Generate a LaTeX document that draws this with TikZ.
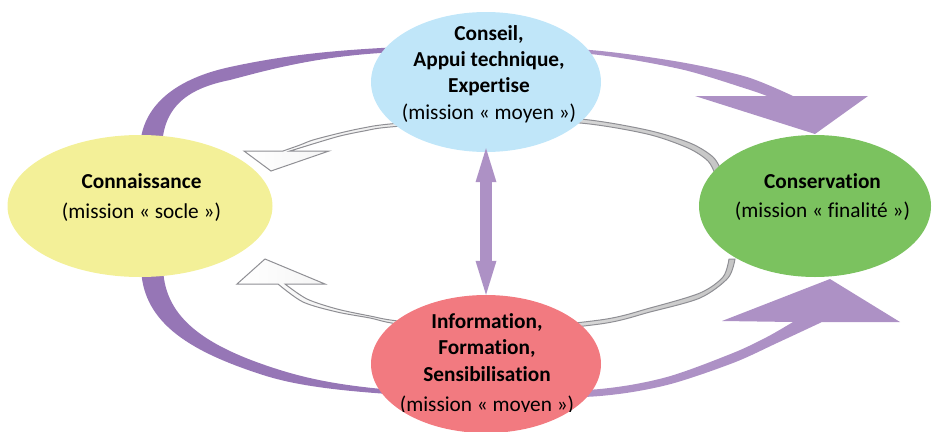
\documentclass[tikz,border=0pt]{standalone}
\usepackage{fontspec}
\setmainfont{Carlito}[Ligatures={CommonOff,ContextualOff}]
\usetikzlibrary{shapes.geometric,arrows.meta}
\definecolor{cblue}{HTML}{C0E6F9}
\definecolor{cyellow}{HTML}{F3F098}
\definecolor{cgreen}{HTML}{7BC25F}
\definecolor{cred}{HTML}{F27A80}
\definecolor{pdark}{HTML}{9676B6}
\definecolor{plight}{HTML}{AD91C5}
\definecolor{gline}{HTML}{8F8F94}
\begin{document}
\begin{tikzpicture}[x=1pt,y=-1pt,
  oval/.style={ellipse,inner sep=0pt,draw=none},
  txt/.style={align=center,inner sep=0pt,font=\fontsize{21.3}{26.4}\selectfont},
  gband/.style={draw=gline,line width=1pt,line join=miter,left color=white,right color=gray!45},
]
\useasboundingbox (0,0) rectangle (934,431);

% ---- outer purple arrows ----
\fill[pdark] (140,150) .. controls (140,110) and (170,80) .. (230,67)
  .. controls (290,54) and (340,50) .. (400,47) -- (490,45) -- (490,50) -- (400,52)
  .. controls (320,55) and (268,70) .. (230,80)
  .. controls (190,88) and (162,105) .. (162,150) -- cycle;
\fill[plight] plot[smooth] coordinates {(480,46) (590,50) (680,62) (747,77) (793,96)}
  -- (868,96) -- (815,134) -- (695,96)
  -- plot[smooth] coordinates {(767,96) (747,89) (680,69) (590,54) (480,50)} -- cycle;

\fill[pdark] (141,265) .. controls (141,320) and (185,350) .. (263,375)
  .. controls (300,387) and (350,392) .. (420,396) -- (490,399) -- (490,395) -- (420,392)
  .. controls (360,388) and (320,382.5) .. (280,370)
  .. controls (200,345) and (163,315) .. (163,265) -- cycle;
\fill[plight] plot[smooth] coordinates {(480,395) (600,389) (667,377) (733,353) (767,337) (793,322)}
  -- (722,321) -- (830,279) -- (900,322)
  -- plot[smooth] coordinates {(822,322) (777,343) (733,363) (667,385) (600,396) (480,401)} -- cycle;

% ---- inner grey arrows ----
\path[gband] plot[smooth] coordinates {(722,172) (713,157) (690,143) (647,130) (580,119) (487,116) (390,124) (363,128) (340,133) (313,140) (300,145) (283,151)}
  -- (244,151) -- (271,171) -- (329,151)
  -- plot[smooth] coordinates {(290,151) (303,147) (316,143) (340,136) (364,131) (390,127) (487,120) (580,123) (647,134) (688,148) (708,161) (715,174)} -- cycle;

\path[gband] plot[smooth] coordinates {(735,259) (728,278) (700,298) (650,312) (600,324) (487,334) (398,324) (370,318) (337,312) (303,302) (278,284)}
  -- (237,284) -- (265,259) -- (325,284)
  -- plot[smooth] coordinates {(285,284) (307,299) (337,309) (370,316) (398,321) (487,330) (600,320) (650,308) (700,293) (723,277) (729,259)} -- cycle;

% ---- ellipses ----
\node[oval,fill=cblue,minimum width=230pt,minimum height=140pt] (blue) at (486,82) {};
\node[oval,fill=cyellow,minimum width=265pt,minimum height=142pt] (yellow) at (140,206) {};
\node[oval,fill=cgreen,minimum width=232pt,minimum height=142pt] (green) at (815,206) {};
\node[oval,fill=cred,minimum width=230pt,minimum height=138pt] (red) at (486,364) {};

% ---- texts ----
\node[txt] (tblue) at (489,74) {\textbf{Conseil,}\\\textbf{Appui technique,}\\\textbf{Expertise}\\(mission « moyen »)};
\node[txt] (tyellow) at (141.5,197.5) {\textbf{Connaissance}\\[3pt](mission « socle »)};
\node[txt] (tgreen) at (822.5,197) {\textbf{Conservation}\\[2pt](mission « finalité »)};
\begin{scope}
\clip (0,0) rectangle (934,411);
\node[txt] (tred) at (487,364) {\textbf{Information,}\\\textbf{Formation,}\\\textbf{Sensibilisation}\\[3.5pt](mission « moyen »)};
\end{scope}

% ---- double arrow ----
\draw[plight,line width=12pt,
  {Triangle[width=21pt,length=34pt,line width=0pt]}-{Triangle[width=21pt,length=34pt,line width=0pt]},
  shorten <=-4pt] (blue.south) -- (red.north);
\end{tikzpicture}
\end{document}
